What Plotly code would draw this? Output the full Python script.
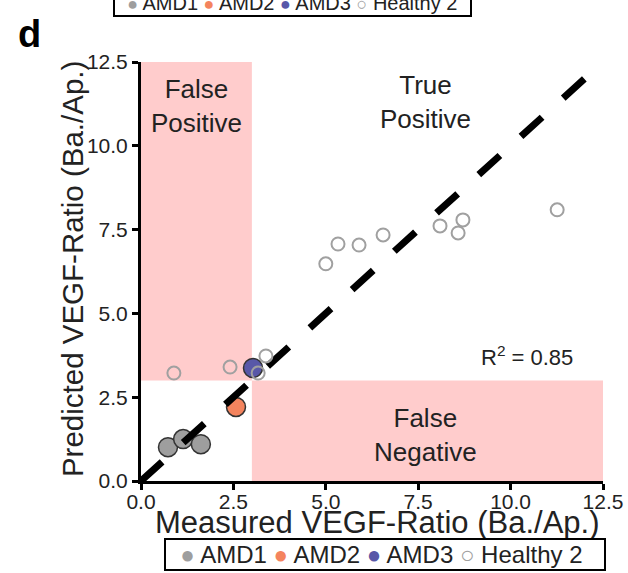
import plotly.graph_objects as go

# Measured vs predicted VEGF ratio (basal / apical)
amd1_measured = [0.73, 1.14, 1.62]
amd1_predicted = [1.01, 1.25, 1.10]
amd2_measured = [2.57]
amd2_predicted = [2.21]
amd3_measured = [3.03]
amd3_predicted = [3.37]
healthy_measured = [0.89, 2.41, 3.17, 3.38, 5.00, 5.33, 5.90, 6.55, 8.09, 8.58, 8.71, 11.26]
healthy_predicted = [3.22, 3.40, 3.22, 3.73, 6.48, 7.07, 7.04, 7.34, 7.61, 7.40, 7.79, 8.09]

tick_values = [0.0, 2.5, 5.0, 7.5, 10.0, 12.5]
tick_labels = ["0.0", "2.5", "5.0", "7.5", "10.0", "12.5"]
group_names = ["AMD1", "AMD2", "AMD3", "Healthy 2"]
axis_max = 12.5
threshold = 3.0
r_squared = 0.85

FONT = "Liberation Sans, Arial, sans-serif"
TEXT = "#222222"
PINK = "rgb(255,204,204)"
GREY = "rgb(158,158,158)"
ORANGE = "rgb(244,132,94)"
BLUE = "rgb(88,88,168)"
OPEN_GREY = "rgb(160,160,160)"
group_colors = [GREY, ORANGE, BLUE, OPEN_GREY]
group_glyphs = ["●", "●", "●", "○"]

fig = go.Figure()

for xs, ys, name, color in [
    (amd1_measured, amd1_predicted, group_names[0], GREY),
    (amd2_measured, amd2_predicted, group_names[1], ORANGE),
    (amd3_measured, amd3_predicted, group_names[2], BLUE),
]:
    fig.add_trace(go.Scatter(
        x=xs, y=ys, mode="markers", name=name,
        marker=dict(size=19, color=color, line=dict(color="#333333", width=1.5)),
    ))

# identity line (perfect prediction)
fig.add_trace(go.Scatter(
    x=[0, axis_max], y=[0, axis_max], mode="lines", name="identity",
    line=dict(color="black", width=7, dash="28.5px,28.5px"),
    hoverinfo="skip",
))

fig.add_trace(go.Scatter(
    x=healthy_measured, y=healthy_predicted, mode="markers", name=group_names[3],
    marker=dict(size=13, color="rgba(255,255,255,0)",
                line=dict(color=OPEN_GREY, width=2)),
))

# shaded misclassification regions
fig.add_shape(type="rect", xref="x", yref="y", x0=0, x1=threshold,
              y0=threshold, y1=axis_max, fillcolor=PINK, line_width=0,
              layer="below")
fig.add_shape(type="rect", xref="x", yref="y", x0=threshold, x1=axis_max,
              y0=0, y1=threshold, fillcolor=PINK, line_width=0,
              layer="below")

region_font = dict(family=FONT, size=26, color=TEXT)
fig.add_annotation(x=1.5, y=11.2, xref="x", yref="y", text="False<br>Positive",
                   showarrow=False, font=region_font)
fig.add_annotation(x=7.7, y=11.3, xref="x", yref="y", text="True<br>Positive",
                   showarrow=False, font=region_font)
fig.add_annotation(x=7.7, y=1.37, xref="x", yref="y", text="False<br>Negative",
                   showarrow=False, font=region_font)
fig.add_annotation(x=10.45, y=3.72, xref="x", yref="y",
                   text=f"R<sup>2</sup> = {r_squared:.2f}",
                   showarrow=False, font=dict(family=FONT, size=22, color=TEXT))

# axis titles
fig.add_annotation(x=0.512, y=-0.1, xref="paper", yref="paper",
                   text="Measured VEGF-Ratio (Ba./Ap.)", showarrow=False,
                   xanchor="center", yanchor="middle",
                   font=dict(family=FONT, size=31, color=TEXT))
fig.add_annotation(x=-0.147, y=0.506, xref="paper", yref="paper",
                   text="Predicted VEGF-Ratio (Ba./Ap.)", showarrow=False,
                   textangle=-90, xanchor="center", yanchor="middle",
                   font=dict(family=FONT, size=29.5, color=TEXT))

# panel letter
fig.add_annotation(x=-0.2424, y=1.0668, xref="paper", yref="paper", text="<b>d</b>",
                   xanchor="center", yanchor="middle",
                   showarrow=False, font=dict(family=FONT, size=38, color="black"))


def legend_text(glyph_size, pad_left, pad_right):
    parts = []
    for name, color, glyph in zip(group_names, group_colors, group_glyphs):
        parts.append(f"<span style='color:{color};font-size:{glyph_size}px'>{glyph}</span> {name}")
    return "&nbsp;" * pad_left + " ".join(parts) + "&nbsp;" * pad_right


# group key
fig.add_annotation(x=0.529, y=-0.136, xref="paper", yref="paper",
                   xanchor="center", yanchor="top", text=legend_text(24, 2, 3),
                   showarrow=False, bordercolor="black", borderwidth=2,
                   borderpad=1, bgcolor="white",
                   font=dict(family=FONT, size=24, color=TEXT))
# key of the panel above, running off the top edge
fig.add_annotation(x=0.327, y=1.1074, xref="paper", yref="paper",
                   xanchor="center", yanchor="bottom", text=legend_text(18, 2, 2),
                   showarrow=False, bordercolor="black", borderwidth=2,
                   borderpad=1, bgcolor="white",
                   font=dict(family=FONT, size=20, color=TEXT))

axis_common = dict(
    range=[0, axis_max], tickvals=tick_values, ticktext=tick_labels,
    showline=True, linecolor="black", linewidth=3,
    ticks="outside", ticklen=6, tickwidth=3, tickcolor="black",
    showgrid=False, zeroline=False,
    tickfont=dict(family=FONT, size=21, color=TEXT),
)

fig.update_layout(
    width=628, height=573,
    margin=dict(l=141, r=25, t=62, b=92, autoexpand=False),
    paper_bgcolor="white", plot_bgcolor="white",
    font=dict(family=FONT, color=TEXT),
    xaxis=dict(**axis_common, ticklabelstandoff=-6),
    yaxis=dict(**axis_common),
    showlegend=False,
)

fig.write_html("out.html")
